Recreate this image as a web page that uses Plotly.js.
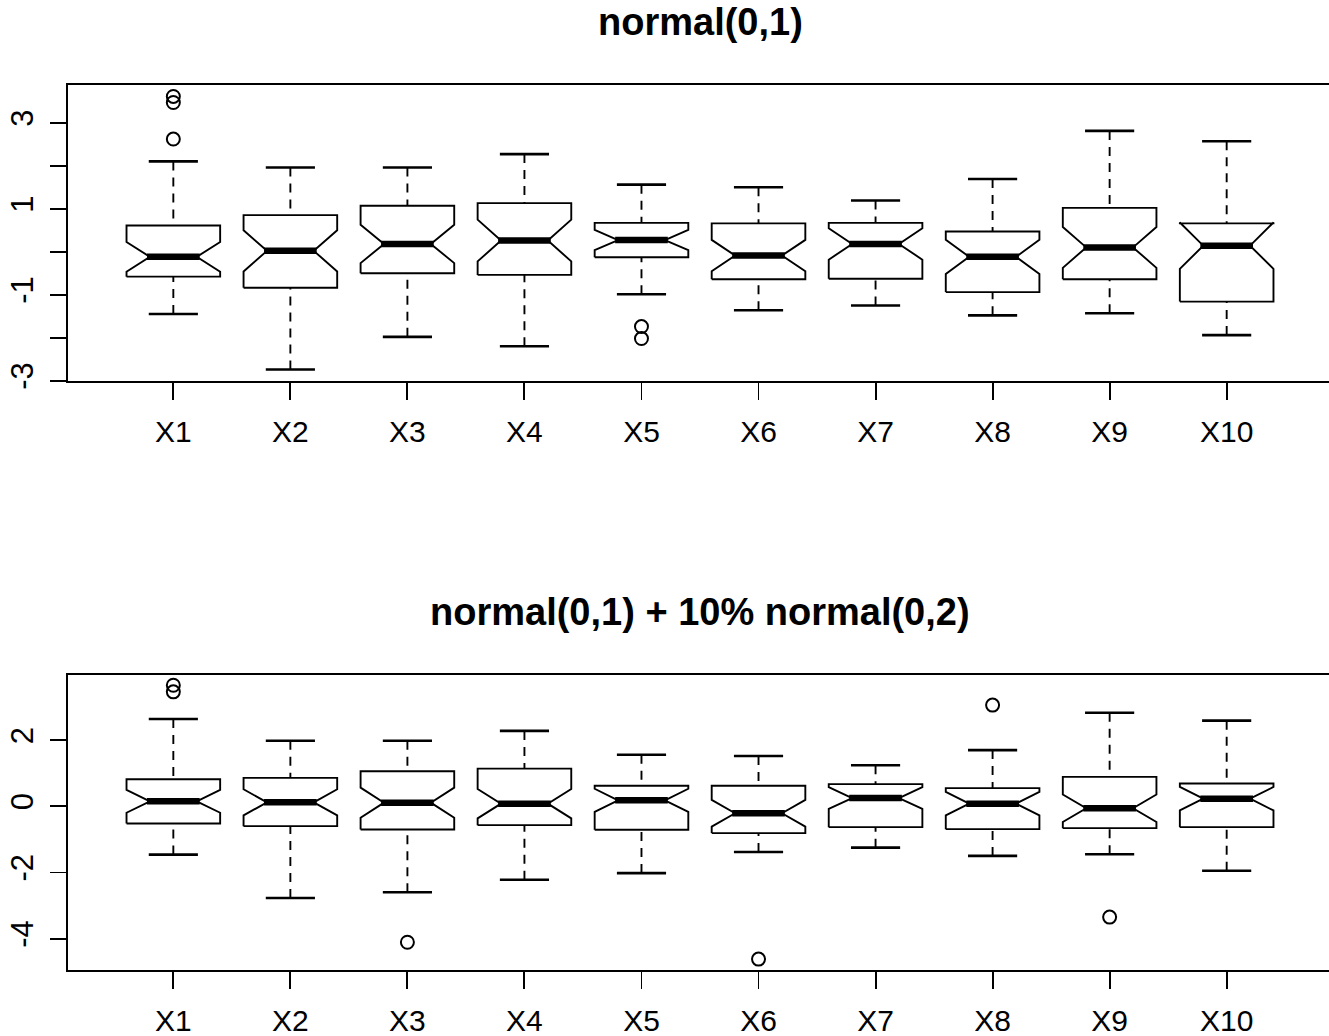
<!DOCTYPE html>
<html><head><meta charset="utf-8">
<script src="https://cdn.plot.ly/plotly-3.0.1.min.js"></script>
<style>html,body{margin:0;padding:0;overflow:hidden;background:#fff}#chart{width:1334px;height:1036px}</style>
</head><body><div id="chart"></div>
<script>
// ---------- data ----------
const categories = ['X1','X2','X3','X4','X5','X6','X7','X8','X9','X10'];

// panel 1: normal(0,1)
const topTitle = 'normal(0,1)';
const topLower  = [-1.45, -2.74, -1.98, -2.20, -0.99, -1.36, -1.25, -1.48, -1.43, -1.94];
const topQ1     = [-0.58, -0.84, -0.50, -0.54, -0.13, -0.64, -0.63, -0.94, -0.64, -1.16];
const topMedian = [-0.12,  0.02,  0.18,  0.26,  0.27, -0.09,  0.18, -0.12,  0.10,  0.14];
const topQ3     = [ 0.61,  0.85,  1.07,  1.13,  0.67,  0.66,  0.67,  0.47,  1.02,  0.66];
const topUpper  = [ 2.10,  1.96,  1.96,  2.27,  1.56,  1.50,  1.19,  1.69,  2.81,  2.57];
const topNotch  = [0.345, 0.48, 0.445, 0.485, 0.235, 0.365, 0.365, 0.40, 0.475, 0.54];
const topOutlierCat = ['X1','X1','X1','X5','X5'];
const topOutlierVal = [3.61, 3.47, 2.62, -1.74, -2.02];
const topTickVals = [-3,-2,-1,0,1,2,3];
const topTickText = ['-3','','-1','','1','','3'];

// panel 2: normal(0,1) + 10% normal(0,2)
const botTitle = 'normal(0,1) + 10% normal(0,2)';
const botLower  = [-1.46, -2.77, -2.60, -2.22, -2.02, -1.38, -1.25, -1.50, -1.45, -1.95];
const botQ1     = [-0.52, -0.60, -0.70, -0.57, -0.71, -0.81, -0.63, -0.69, -0.66, -0.63];
const botMedian = [ 0.15,  0.12,  0.11,  0.08,  0.18, -0.21,  0.25,  0.08, -0.06,  0.23];
const botQ3     = [ 0.82,  0.86,  1.06,  1.14,  0.62,  0.62,  0.67,  0.55,  0.89,  0.69];
const botUpper  = [ 2.64,  1.98,  1.98,  2.28,  1.56,  1.52,  1.24,  1.70,  2.83,  2.59];
const botNotch  = [0.345, 0.395, 0.455, 0.445, 0.35, 0.405, 0.33, 0.355, 0.415, 0.355];
const botOutlierCat = ['X1','X1','X3','X6','X8','X9'];
const botOutlierVal = [3.66, 3.46, -4.11, -4.62, 3.06, -3.35];
const botTickVals = [-4,-2,0,2];
const botTickText = ['-4','-2','0','2'];

// ---------- drawing ----------
const pos = categories.map((c, i) => i + 1);
const BOX_HALF = 0.4, NOTCH_FRAC = 0.5, CAP_HALF = 0.21, MED_HALF = 0.225;
const LW = 1.9;

function panel(xr, yr, lo, q1, med, q3, hi, notch, outCat, outVal) {
  const bx = [], by = [], wx = [], wy = [], cx = [], cy = [], mx = [], my = [];
  pos.forEach((p, i) => {
    const w = BOX_HALF, nw = BOX_HALF * NOTCH_FRAC;
    const nlo = med[i] - notch[i], nhi = med[i] + notch[i];
    // notched box outline (same vertex order as R's bxp)
    bx.push(p - w, p + w, p + w, p + nw, p + w, p + w, p - w, p - w, p - nw, p - w, p - w, null);
    by.push(q1[i], q1[i], nlo, med[i], nhi, q3[i], q3[i], nhi, med[i], nlo, q1[i], null);
    // whiskers: from whisker end to hinge
    wx.push(p, p, null, p, p, null);
    wy.push(lo[i], q1[i], null, hi[i], q3[i], null);
    // staples
    cx.push(p - CAP_HALF, p + CAP_HALF, null, p - CAP_HALF, p + CAP_HALF, null);
    cy.push(lo[i], lo[i], null, hi[i], hi[i], null);
    // median
    mx.push(p - MED_HALF, p + MED_HALF, null);
    my.push(med[i], med[i], null);
  });
  const common = {type: 'scatter', xaxis: xr, yaxis: yr, hoverinfo: 'skip', showlegend: false};
  return [
    Object.assign({}, common, {mode: 'lines', x: wx, y: wy,
      line: {color: '#000', width: LW, dash: '9px,7px'}}),
    Object.assign({}, common, {mode: 'lines', x: bx, y: by, fill: 'toself', fillcolor: '#fff',
      line: {color: '#000', width: LW}}),
    Object.assign({}, common, {mode: 'lines', x: cx, y: cy,
      line: {color: '#000', width: 2.6}}),
    Object.assign({}, common, {mode: 'lines', x: mx, y: my,
      line: {color: '#000', width: 6.5}}),
    Object.assign({}, common, {mode: 'markers',
      x: outCat.map(c => categories.indexOf(c) + 1), y: outVal,
      marker: {symbol: 'circle-open', size: 13, color: '#000', line: {width: 2, color: '#000'}}})
  ];
}

const data = [].concat(
  panel('x', 'y', topLower, topQ1, topMedian, topQ3, topUpper, topNotch, topOutlierCat, topOutlierVal),
  panel('x2', 'y2', botLower, botQ1, botMedian, botQ3, botUpper, botNotch, botOutlierCat, botOutlierVal)
);

const FONT = 'Liberation Sans, Arial, Helvetica, sans-serif';
const H = 1036;
function xAxis(anchor) {
  return {
    anchor: anchor, domain: [0, 1], range: [0.1, 10.9], autorange: false,
    tickmode: 'array', tickvals: pos, ticktext: categories,
    ticks: 'outside', ticklen: 17, tickwidth: LW, tickcolor: '#000',
    showline: true, mirror: true, linewidth: LW, linecolor: '#000',
    showgrid: false, zeroline: false, automargin: false,
    tickfont: {family: FONT, size: 30, color: '#000'}, ticklabelstandoff: 6
  };
}
function yAxis(anchor, top, bottom, range, vals, text) {
  return {
    anchor: anchor, domain: [1 - bottom / H, 1 - top / H], range: range, autorange: false,
    tickmode: 'array', tickvals: vals, ticktext: text, tickangle: -90,
    ticks: 'outside', ticklen: 16, tickwidth: LW, tickcolor: '#000',
    showline: true, mirror: true, linewidth: LW, linecolor: '#000',
    showgrid: false, zeroline: false, automargin: false,
    tickfont: {family: FONT, size: 31, color: '#000'}, ticklabelstandoff: 5
  };
}

const layout = {
  width: 1334, height: H,
  margin: {l: 68, r: 2, t: 0, b: 0},
  paper_bgcolor: '#fff', plot_bgcolor: '#fff',
  showlegend: false,
  xaxis: xAxis('y'),
  yaxis: yAxis('x', 85, 380.7, [-3.0, 3.877], topTickVals, topTickText),
  xaxis2: xAxis('y2'),
  yaxis2: yAxis('x2', 675, 969.7, [-4.94, 3.97], botTickVals, botTickText),
  annotations: [
    {text: topTitle, xref: 'paper', yref: 'paper', x: 0.5, y: 1 - 22 / H, xanchor: 'center', yanchor: 'middle',
     showarrow: false, font: {family: FONT, size: 38, color: '#000', weight: 'bold'}},
    {text: botTitle, xref: 'paper', yref: 'paper', x: 0.5, y: 1 - 612 / H, xanchor: 'center', yanchor: 'middle',
     showarrow: false, font: {family: FONT, size: 38, color: '#000', weight: 'bold'}}
  ]
};

Plotly.newPlot('chart', data, layout, {displayModeBar: false, staticPlot: true});
</script></body></html>
